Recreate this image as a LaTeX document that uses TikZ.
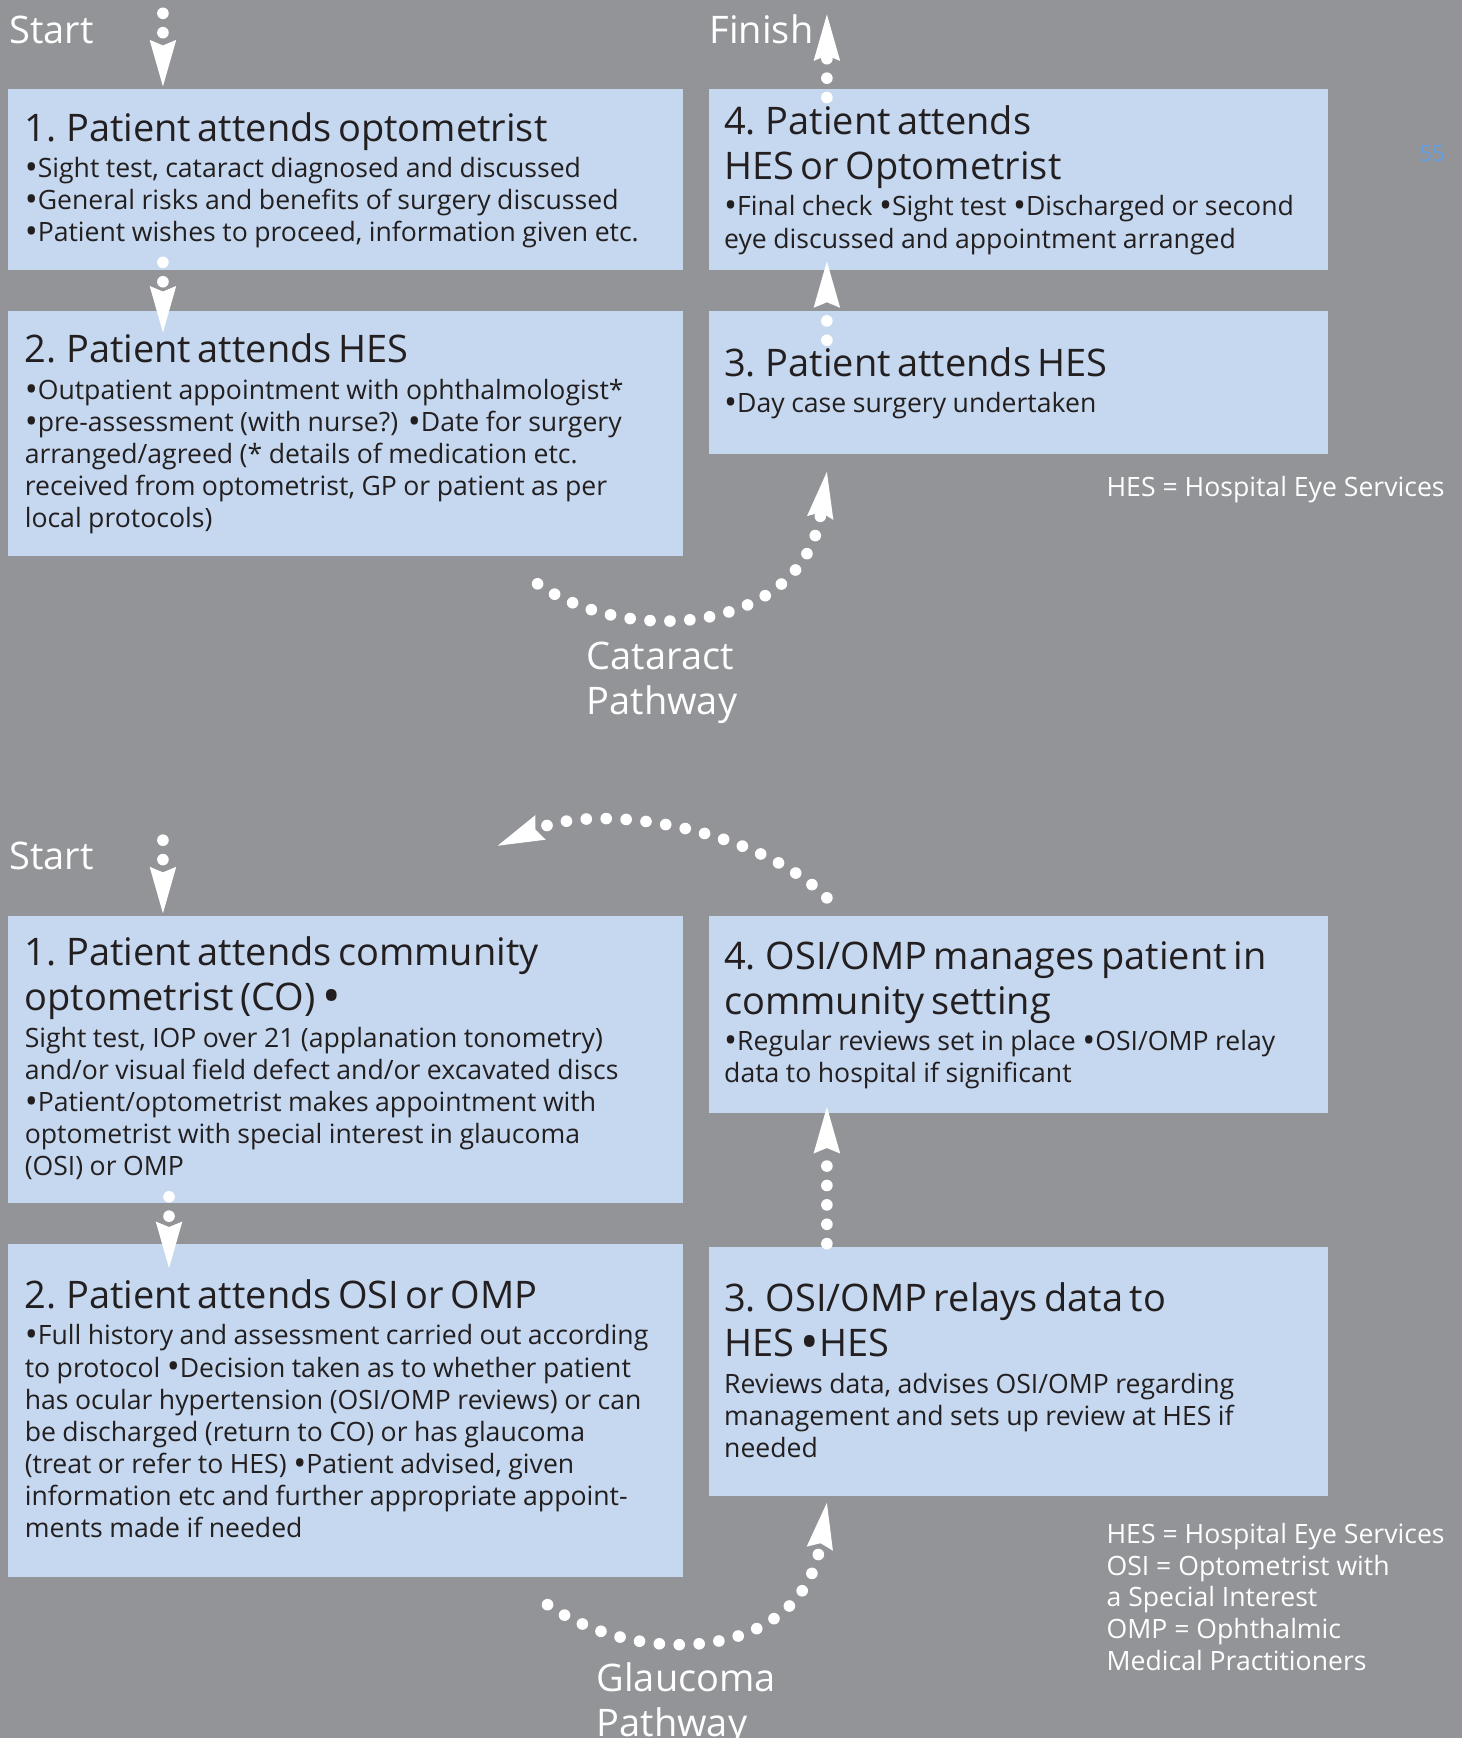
\documentclass[tikz,border=0pt]{standalone}
\usepackage{fontspec}
\usepackage{graphicx}
\setmainfont{Open Sans}
\usetikzlibrary{arrows.meta}
\definecolor{bggray}{RGB}{147,148,152}
\definecolor{boxblue}{RGB}{197,216,239}
\definecolor{inktext}{RGB}{35,31,32}
\definecolor{pageblue}{RGB}{98,160,230}
\newdimen\unitpx \unitpx=0.02cm
\newcommand{\headfont}{\fontsize{19.5pt}{23.05pt}\selectfont}
\newcommand{\bodyfont}{\fontsize{13.66pt}{16.5pt}\selectfont}
\newcommand{\keyfont}{\fontsize{13.66pt}{16.33pt}\selectfont}
\newcommand{\bul}{\raisebox{-0.07em}{\scalebox{1.3}{•}}}
\newcommand{\stagetext}[2]{{\headfont\rule{0pt}{30\unitpx}#1\par}\vspace{4\unitpx}{\bodyfont #2\par}}

\begin{document}
\begin{tikzpicture}[x=0.02cm,y=-0.02cm,
                stagebox/.style={fill=boxblue,inner sep=0pt,anchor=north west},
                stagetxt/.style={inner sep=0pt,anchor=north west,align=left,text=inktext},
                lefttxt/.style={stagetxt,text width=595\unitpx},
                righttxt/.style={stagetxt,text width=550\unitpx},
                endlabel/.style={inner sep=0pt,anchor=base west,text=white,font=\headfont},
                pathlabel/.style={inner sep=0pt,anchor=north west,align=left,text=white,font=\headfont},
                keylabel/.style={inner sep=0pt,anchor=north west,align=left,text=white,font=\keyfont},
                dotarrow/.style={white,line width=0.21cm,line cap=round,dash pattern=on 0pt off 0.35cm,
                    -{Stealth[length=0.84cm,width=0.48cm,inset=0.1cm,line width=0pt]}},
                dotcurve/.style={dotarrow,dash pattern=on 0pt off 0.36cm}]
                \fill[bggray] (0,0) rectangle (1319,1568);
                \useasboundingbox (0,0) rectangle (1319,1568);

                \node[stagebox,minimum width=609\unitpx,minimum height=163\unitpx] (a1) at (7,80) {};
                \node[stagebox,minimum width=609\unitpx,minimum height=221\unitpx] (a2) at (7,280) {};
                \node[stagebox,minimum width=559\unitpx,minimum height=129\unitpx] (a3) at (639,280) {};
                \node[stagebox,minimum width=559\unitpx,minimum height=163\unitpx] (a4) at (639,80) {};
                \node[stagebox,minimum width=609\unitpx,minimum height=259\unitpx] (g1) at (7,826) {};
                \node[stagebox,minimum width=609\unitpx,minimum height=300\unitpx] (g2) at (7,1122) {};
                \node[stagebox,minimum width=559\unitpx,minimum height=224\unitpx] (g3) at (639,1125) {};
                \node[stagebox,minimum width=559\unitpx,minimum height=178\unitpx] (g4) at (639,826) {};

                \node[lefttxt] (a1t) at ([shift={(15,17)}]a1.north west) {\stagetext{1. Patient attends optometrist}{\bul Sight test, cataract diagnosed and discussed\\\bul General risks and benefits of surgery discussed\\\bul Patient wishes to proceed, information given etc.}};
                \node[lefttxt] (a2t) at ([shift={(15,17)}]a2.north west) {\stagetext{2. Patient attends HES}{\bul Outpatient appointment with ophthalmologist*\\\bul pre-assessment (with nurse?) \bul Date for surgery\\arranged/agreed (* details of medication etc.\\received from optometrist, GP or patient as per\\local protocols)}};
                \node[righttxt] (a3t) at ([shift={(14,29)}]a3.north west) {\stagetext{3. Patient attends HES}{\bul Day case surgery undertaken}};
                \node[righttxt] (a4t) at ([shift={(14,11)}]a4.north west) {\stagetext{4. Patient attends\\HES or Optometrist}{\bul Final check \bul Sight test \bul Discharged or second\\eye discussed and appointment arranged}};
                \node[lefttxt] (g1t) at ([shift={(15,15)}]g1.north west) {\stagetext{1. Patient attends community\\optometrist (CO) \bul}{Sight test, IOP over 21 (applanation tonometry)\\and/or visual field defect and/or excavated discs\\\bul Patient/optometrist makes appointment with\\optometrist with special interest in glaucoma\\(OSI) or OMP}};
                \node[lefttxt] (g2t) at ([shift={(15,28)}]g2.north west) {\stagetext{2. Patient attends OSI or OMP}{\bul Full history and assessment carried out according\\to protocol \bul Decision taken as to whether patient\\has ocular hypertension (OSI/OMP reviews) or can\\be discharged (return to CO) or has glaucoma\\(treat or refer to HES) \bul Patient advised, given\\information etc and further appropriate appoint-\\ments made if needed}};
                \node[righttxt] (g3t) at ([shift={(14,28)}]g3.north west) {\stagetext{3. OSI/OMP relays data to\\HES \bul HES}{Reviews data, advises OSI/OMP regarding\\management and sets up review at HES if\\needed}};
                \node[righttxt] (g4t) at ([shift={(14,18)}]g4.north west) {\stagetext{4. OSI/OMP manages patient in\\community setting}{\bul Regular reviews set in place \bul OSI/OMP relay\\data to hospital if significant}};

                \node[endlabel] (start1) at (8,39) {Start};
                \node[endlabel] (finish) at (640,39) {Finish};
                \node[endlabel] (start2) at (8,784) {Start};
                \node[pathlabel] (catlbl) at (529,574) {\rule{0pt}{30\unitpx}Cataract\\Pathway};
                \node[pathlabel] (glalbl) at (538,1496) {\rule{0pt}{30\unitpx}Glaucoma\\Pathway};
                \node[keylabel] (key1) at (998,426) {\rule{0pt}{22\unitpx}HES = Hospital Eye Services};
                \node[keylabel] (key2) at (998,1370) {\rule{0pt}{22\unitpx}HES = Hospital Eye Services\\OSI = Optometrist with\\a Special Interest\\OMP = Ophthalmic\\Medical Practitioners};
                \node[text=pageblue,font=\fontsize{11.5pt}{13pt}\selectfont] (pageno) at (1292,139) {55};

                \coordinate (go1) at (147,12);
                \coordinate (fin) at (746,13);
                \coordinate (go2) at (147,758);
                \coordinate (back) at (449,763);

                \draw[dotarrow] (go1) -- ([shift={(140,-2)}]a1.north west);
                \draw[dotarrow] ([shift={(140,-7)}]a1.south west) -- ([shift={(140,20)}]a2.north west);
                \draw[dotcurve] ([shift={(478,25)}]a2.south west) .. controls (570,585) and (725,570) .. ([shift={(107,16)}]a3.south west);
                \draw[dotarrow] ([shift={(107,27)}]a3.north west) -- ([shift={(107,-8)}]a4.south west);
                \draw[dotarrow] ([shift={(107,8)}]a4.north west) -- (fin);

                \draw[dotarrow] (go2) -- ([shift={(140,-2)}]g1.north west);
                \draw[dotarrow] ([shift={(145.5,-6)}]g1.south west) -- ([shift={(145.5,22)}]g2.north west);
                \draw[dotcurve] ([shift={(487,25)}]g2.south west) .. controls (579,1506) and (724,1498) .. ([shift={(107,6)}]g3.south west);
                \draw[dotarrow] ([shift={(107,-3)}]g3.north west) -- ([shift={(107,-6)}]g4.south west);
                \draw[dotcurve] ([shift={(107,-16)}]g4.north west) .. controls (686,750) and (545,722) .. (back);
\end{tikzpicture}
\end{document}
